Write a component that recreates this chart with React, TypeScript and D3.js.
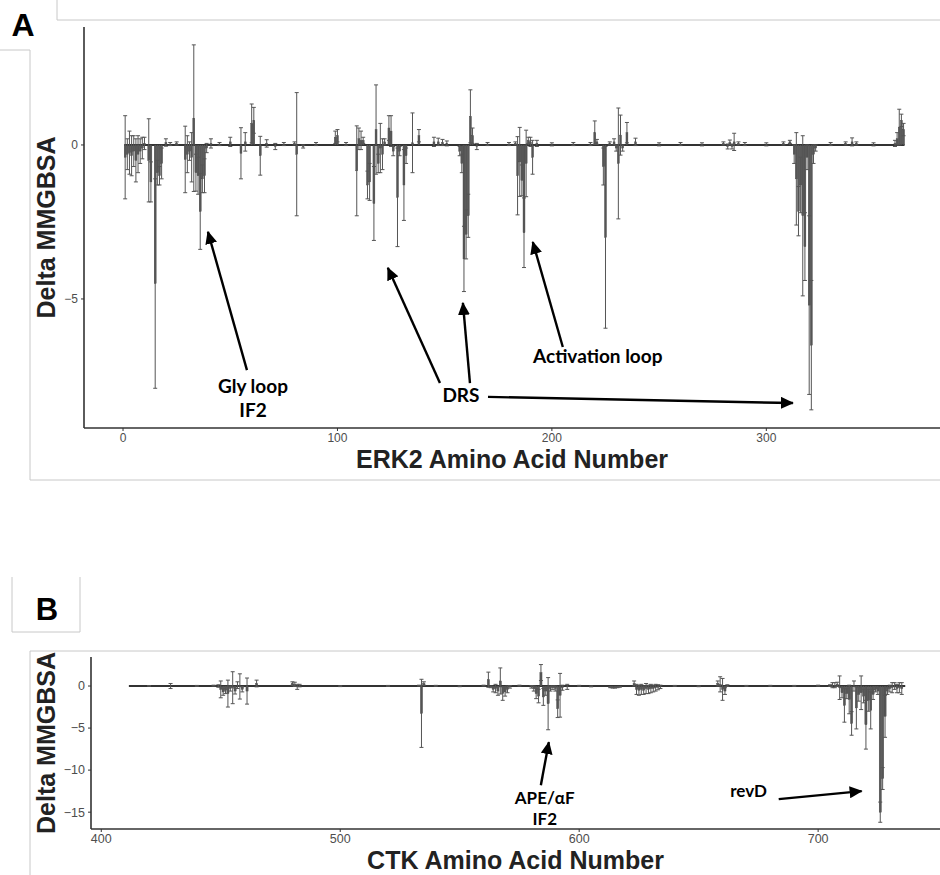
import React from "react";
import * as d3 from "d3";

// ---------- Panel A: ERK2 ----------
const erkResidues = [1,2,3,4,5,6,7,8,9,10,12,13,15,16,17,18,20,22,25,29,30,31,32,33,34,35,36,37,38,39,41,45,50,55,57,60,61,64,67,71,75,80,81,84,90,99,100,104,109,110,111,112,114,115,117,118,119,120,121,122,124,125,126,128,129,131,132,135,138,145,147,149,151,157,158,159,160,161,162,163,165,170,180,183,184,185,186,187,188,189,190,191,193,200,210,218,220,221,224,225,227,229,230,231,232,233,235,239,250,260,270,280,282,283,284,285,287,290,300,308,311,313,314,315,316,317,318,319,320,321,322,323,330,337,340,342,350,360,361,362,363,364];
const erkValues = [-0.4,-0.3,-0.25,-0.35,-0.2,-0.5,-0.3,-0.2,-0.1,0.05,-0.5,-1.2,-4.5,-0.9,-1.0,-0.6,0.08,0.03,0.05,-0.47,-0.3,-0.2,-0.4,0.87,-0.9,-1.0,-2.16,-1.1,-1.0,-0.1,0.05,0.03,0.1,-0.27,0.1,0.7,0.8,-0.35,0.05,-0.05,0.03,0.05,-0.3,-0.05,0.03,0.25,0.3,0.03,-0.84,0.2,0.15,0.15,-1.3,-1.2,-1.9,0.5,-0.6,-0.1,-0.3,0.1,0.55,0.45,-0.2,-1.7,-0.2,-1.3,-0.35,0.07,0.3,0.1,0.1,0.08,0.05,-0.2,-0.6,-3.7,-2.9,-2.3,0.93,0.3,-0.05,0.03,0.03,0.05,-1.0,-0.55,-1.15,-2.85,-0.6,0.15,0.1,-0.4,0.05,0.02,0.03,0.03,0.4,0.1,-0.7,-3.0,0.05,0.1,-0.1,-0.6,0.32,-0.1,0.4,0.1,0.02,0.03,0.02,0.05,-0.05,0.08,-0.05,0.1,0.05,0.03,0.02,0.05,0.1,-0.3,-1.1,-2.15,-1.3,-2.3,-3.3,-0.4,-5.2,-6.5,-0.3,-0.1,0.03,0.05,0.1,0.05,0.02,0.05,0.2,0.58,0.8,0.5];
const erkErrors = [1.35,0.5,0.7,0.65,0.5,0.7,0.6,0.4,0.35,0.2,1.35,0.65,3.4,0.4,0.3,0.5,0.12,0.05,0.05,1.08,0.6,0.3,0.8,2.38,0.6,0.6,1.23,0.45,0.55,0.15,0.15,0.05,0.15,0.83,0.3,0.63,0.42,0.63,0.12,0.1,0.05,0.05,2.0,0.05,0.05,0.2,0.2,0.05,1.46,0.35,0.3,0.1,0.45,0.6,1.2,1.45,0.3,0.8,0.5,0.1,0.4,0.5,0.15,1.6,0.15,1.15,0.25,0.97,0.2,0.15,0.12,0.1,0.08,0.15,0.3,1.06,0.8,0.7,0.86,0.25,0.1,0.05,0.05,0.05,1.27,1.12,0.5,1.13,1.08,0.1,0.15,0.55,0.1,0.05,0.05,0.05,0.38,0.08,0.6,2.95,0.05,0.1,0.1,1.8,0.65,0.1,0.33,0.12,0.05,0.05,0.05,0.05,0.08,0.08,0.08,0.28,0.05,0.05,0.05,0.05,0.05,0.3,1.5,0.8,0.9,2.6,1.1,0.4,2.9,2.1,0.3,0.1,0.05,0.05,0.13,0.05,0.05,0.1,0.2,0.58,0.2,0.2];
const erkSpan = [1, 364];
const erkXTicks = [0, 100, 200, 300];
const erkYTicks = [0, -5];

// ---------- Panel B: CTK ----------
const ctkResidues = [420,429,440,447,449,450,451,452,453,454,455,456,457,458,459,461,465,480,481,482,483,500,520,533,534,535,540,550,560,562,563,564,565,566,567,568,569,570,571,575,580,581,582,583,584,585,586,587,588,589,590,591,592,593,595,600,605,613,614,615,616,617,623,624,625,626,627,628,629,630,631,632,633,634,640,650,658,659,660,661,662,670,680,690,700,705,706,707,708,709,710,711,712,713,714,715,716,717,718,719,720,721,722,723,724,725,726,727,728,729,730,731,732,733,734,735];
const ctkValues = [0.02,0.0,0.02,0.05,0.0,-0.4,-0.7,-0.5,-0.9,-0.3,-0.2,-0.6,0.1,-0.05,-0.4,-0.6,0.3,0.3,0.2,-0.1,0.05,-0.02,0.02,0.05,-3.25,0.3,0.03,-0.03,0.05,0.75,-0.1,-0.4,-0.3,-0.6,0.6,-0.9,-0.7,-0.4,-0.1,0.05,-0.1,-0.3,-0.9,-1.2,1.6,-1.3,-0.6,-2.1,-0.3,-0.2,-0.3,-2.7,-1.1,-0.2,-0.1,0.03,-0.05,-0.15,-0.2,-0.2,-0.15,-0.1,0.3,-0.4,-0.5,-0.4,-0.5,-0.3,-0.4,-0.3,-0.3,-0.2,-0.15,-0.1,0.02,-0.03,0.3,0.2,-0.4,-0.6,0.05,0.02,0.03,0.02,0.05,0.05,0.1,0.1,0.2,-0.2,-0.8,-2.3,-0.9,-1.6,-4.45,0.0,-2.6,-1.0,-0.8,-1.2,-4.6,-1.7,-2.9,-1.0,-0.4,-0.6,-15.0,-11.0,-3.6,-0.6,-0.3,-0.2,0.0,-0.3,-0.2,-0.3];
const ctkErrors = [0.03,0.3,0.05,0.05,0.15,1.0,0.4,0.4,1.6,0.3,1.9,0.35,0.4,1.5,0.3,1.55,0.4,0.2,0.25,0.3,0.15,0.05,0.05,0.05,4.05,0.2,0.05,0.05,0.05,0.9,0.1,0.3,0.5,0.5,1.55,0.8,0.5,0.4,0.15,0.05,0.15,0.3,0.6,0.8,0.95,1.0,0.5,3.1,0.3,0.2,0.3,1.05,2.6,0.3,0.3,0.05,0.05,0.05,0.05,0.05,0.05,0.05,0.3,0.6,0.6,0.6,0.5,0.6,0.5,0.5,0.4,0.4,0.3,0.2,0.05,0.05,0.3,0.9,1.3,0.4,0.1,0.05,0.05,0.05,0.05,0.1,0.3,0.3,0.25,1.4,0.6,2.0,0.6,1.7,1.4,0.6,2.5,0.8,2.0,0.8,2.9,1.3,2.2,0.6,0.3,0.4,1.2,1.3,2.5,0.4,0.4,0.6,0.4,0.5,0.6,0.7];
const ctkSpan = [412, 736];
const ctkXTicks = [400, 500, 600, 700];
const ctkYTicks = [0, -5, -10, -15];

// annotations (data coordinates): text lines and arrows [x1, y1, x2, y2]
const erkLabels = [
  { lines: ["Gly loop", "IF2"], x: 60.6, y: -8.05, dy: -0.78 },
  { lines: ["DRS"], x: 157.6, y: -8.34, dy: 0 },
  { lines: ["Activation loop"], x: 221.4, y: -7.08, dy: 0 },
];
const erkArrows = [
  [57.8, -7.31, 39.6, -2.82],
  [147.8, -7.73, 123.5, -3.99],
  [161.8, -7.73, 158.5, -5.13],
  [170.2, -8.18, 312.4, -8.38],
  [205.1, -6.56, 191.1, -3.15],
];
const ctkLabels = [
  { lines: ["APE/αF", "IF2"], x: 585.6, y: -14.0, dy: -2.5 },
  { lines: ["revD"], x: 670.9, y: -13.2, dy: 0 },
];
const ctkArrows = [
  [583.96, -11.79, 587.3, -6.67],
  [683.5, -13.45, 718.2, -12.5],
];

const FONT = "'Liberation Sans', Arial, sans-serif";
const ANNO_FONT = "Lato, 'Open Sans', sans-serif";

type PanelProps = {
  residues: number[]; values: number[]; errors: number[]; span: number[];
  xTicks: number[]; yTicks: number[];
  xDomain: [number, number]; yDomain: [number, number];
  left: number; right: number; top: number; bottom: number;
  xTitle: string; xTitleY: number; yTitleX: number;
  tickFont: number;
  labels: { lines: string[]; x: number; y: number; dy: number }[];
  arrows: number[][];
  annoSize: number;
};

function Panel(p: PanelProps) {
  const x = d3.scaleLinear().domain(p.xDomain).range([p.left, p.right]);
  const y = d3.scaleLinear().domain(p.yDomain).range([p.bottom, p.top]);
  const step = Math.abs(x(1) - x(0));
  const bw = step * 0.9;
  const cap = 2;
  const y0 = y(0);
  return (
    <g>
      {/* zero baseline of tiny bars */}
      <line x1={x(p.span[0]) - bw / 2} x2={x(p.span[1]) + bw / 2} y1={y0} y2={y0} stroke="#333" strokeWidth={2} />
      {p.residues.map((r, i) => {
        const v = p.values[i];
        const yv = y(v);
        return (
          <rect key={"b" + i} x={x(r) - bw / 2} y={Math.min(yv, y0)} width={bw}
            height={Math.max(Math.abs(yv - y0), 0.5)} fill="#5a5a5a" stroke="#3a3a3a" strokeWidth={0.4} />
        );
      })}
      {p.residues.map((r, i) => {
        const v = p.values[i], e = p.errors[i];
        const cx = x(r), ya = y(v + e), yb = y(v - e);
        return (
          <g key={"e" + i} stroke="#555" strokeWidth={1}>
            <line x1={cx} x2={cx} y1={ya} y2={yb} />
            <line x1={cx - cap} x2={cx + cap} y1={ya} y2={ya} />
            <line x1={cx - cap} x2={cx + cap} y1={yb} y2={yb} />
          </g>
        );
      })}
      {/* axes */}
      <line x1={p.left} x2={p.right} y1={p.bottom} y2={p.bottom} stroke="#333" strokeWidth={1.6} />
      <line x1={p.left} x2={p.left} y1={p.top} y2={p.bottom} stroke="#333" strokeWidth={1.6} />
      {p.xTicks.map((t) => (
        <g key={"xt" + t}>
          <line x1={x(t)} x2={x(t)} y1={p.bottom} y2={p.bottom + 3} stroke="#333" strokeWidth={1} />
          <text x={x(t)} y={p.bottom + 3 + p.tickFont * 0.9} textAnchor="middle" fontFamily={FONT}
            fontSize={p.tickFont} fill="#4d4d4d">{t}</text>
        </g>
      ))}
      {p.yTicks.map((t) => (
        <g key={"yt" + t}>
          <line x1={p.left - 3} x2={p.left} y1={y(t)} y2={y(t)} stroke="#333" strokeWidth={1} />
          <text x={p.left - 6} y={y(t)} dy="0.35em" textAnchor="end" fontFamily={FONT}
            fontSize={p.tickFont} fill="#4d4d4d">{t < 0 ? "\u2212" + Math.abs(t) : t}</text>
        </g>
      ))}
      <text x={(p.left + p.right) / 2} y={p.xTitleY} textAnchor="middle" fontFamily={FONT}
        fontWeight="bold" fontSize={25} fill="#222">{p.xTitle}</text>
      <text transform={`translate(${p.yTitleX},${(p.top + p.bottom) / 2}) rotate(-90)`} textAnchor="middle"
        fontFamily={FONT} fontWeight="bold" fontSize={25} fill="#222">Delta MMGBSA</text>
      {/* annotations */}
      {p.arrows.map((a, i) => (
        <line key={"ar" + i} x1={x(a[0])} y1={y(a[1])} x2={x(a[2])} y2={y(a[3])}
          stroke="#000" strokeWidth={2.4} markerEnd="url(#arrowhead)" />
      ))}
      {p.labels.map((l, i) => (
        <text key={"lb" + i} textAnchor="middle" fontFamily={ANNO_FONT} fontWeight="bold"
          fontSize={p.annoSize} fill="#000">
          {l.lines.map((s, j) => (
            <tspan key={j} x={x(l.x)} y={y(l.y + j * l.dy)}>{s}</tspan>
          ))}
        </text>
      ))}
    </g>
  );
}

export default function App() {
  return (
    <svg width={940} height={875} viewBox="0 0 940 875"
      style={{ position: "absolute", left: 0, top: 0, display: "block", background: "#fff" }}>
      <defs>
        <marker id="arrowhead" markerUnits="userSpaceOnUse" markerWidth={14} markerHeight={12}
          refX={12} refY={6} orient="auto">
          <path d="M0,0 L13,6 L0,12 Z" fill="#000" />
        </marker>
      </defs>
      <rect x={0} y={0} width={940} height={875} fill="#fff" />
      {/* panel frames (figure composition) */}
      <g stroke="#c8c8c8" strokeWidth={1} fill="none">
        <line x1={57} x2={940} y1={20} y2={20} />
        <line x1={57} x2={57} y1={0} y2={20} />
        <line x1={0} x2={30} y1={50} y2={50} />
        <line x1={30} x2={30} y1={50} y2={480} />
        <line x1={30} x2={940} y1={480} y2={480} />
        <path d="M12,577 L12,632 L80,632 L80,577" />
        <line x1={30} x2={940} y1={651} y2={651} />
        <line x1={30} x2={30} y1={651} y2={875} />
      </g>
      <text x={23} y={36} textAnchor="middle" fontFamily={FONT} fontWeight="bold" fontSize={32} fill="#000">A</text>
      <text x={47} y={620} textAnchor="middle" fontFamily={FONT} fontWeight="bold" fontSize={31} fill="#000">B</text>
      <Panel residues={erkResidues} values={erkValues} errors={erkErrors} span={erkSpan}
        xTicks={erkXTicks} yTicks={erkYTicks} xDomain={[-18.2, 381]} yDomain={[-9.19, 3.83]}
        left={84} right={940} top={27} bottom={428} xTitle="ERK2 Amino Acid Number" xTitleY={468}
        yTitleX={55} tickFont={12} labels={erkLabels} arrows={erkArrows} annoSize={19} />
      <Panel residues={ctkResidues} values={ctkValues} errors={ctkErrors} span={ctkSpan}
        xTicks={ctkXTicks} yTicks={ctkYTicks} xDomain={[395.7, 751]} yDomain={[-17.0, 3.45]}
        left={91} right={940} top={657} bottom={829} xTitle="CTK Amino Acid Number" xTitleY={869}
        yTitleX={55} tickFont={12.5} labels={ctkLabels} arrows={ctkArrows} annoSize={17} />
    </svg>
  );
}
